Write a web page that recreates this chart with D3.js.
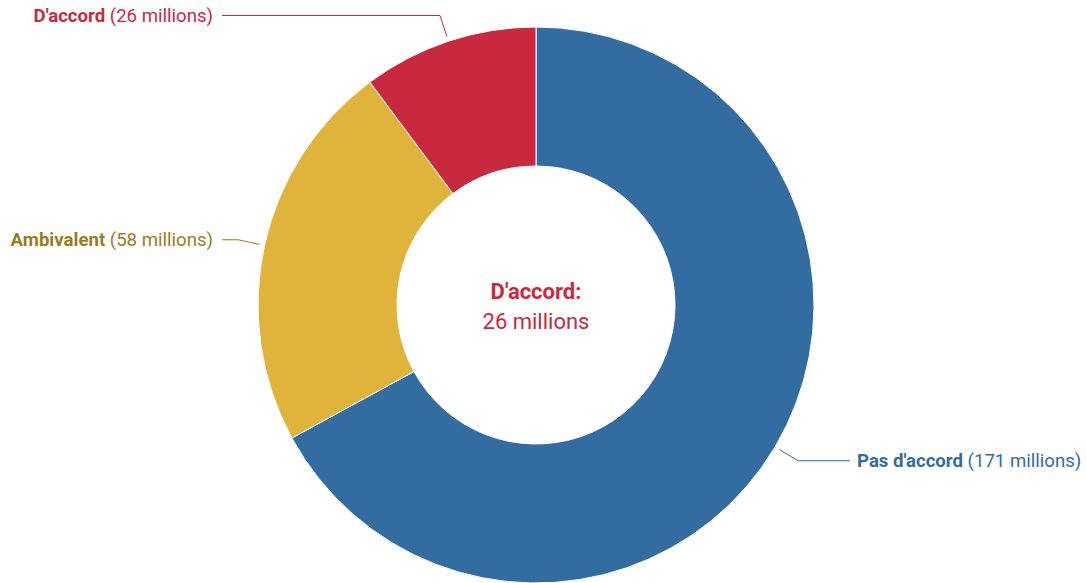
<!DOCTYPE html>
<html><head><meta charset="utf-8">
<script src="https://cdn.jsdelivr.net/npm/d3@7/dist/d3.min.js"></script>
<style>body{margin:0;background:#fff;}svg{display:block;font-family:Roboto,"Noto Sans",sans-serif;}</style>
</head><body><svg id="c" width="1086" height="583"></svg>
<script>
const categories = ["Pas d'accord", "Ambivalent", "D'accord"];
const values = [171, 58, 26];
const unitLabel = "millions";
const colors = ["#336ca1", "#e0b43b", "#c9293f"];
const labelColors = ["#336ca1", "#9c7a1f", "#c9293f"];
const centerIndex = 2;

const W = 1086, H = 583, cx = 536, cy = 305, R = 278, r0 = 139;
const svg = d3.select("#c");
const g = svg.append("g").attr("transform", `translate(${cx},${cy})`);
const data = categories.map((c, i) => ({name: c, value: values[i], i}));
const pie = d3.pie().value(d => d.value).sort(null);
const arcs = pie(data);
const arc = d3.arc().innerRadius(r0).outerRadius(R);
g.selectAll("path.slice").data(arcs).join("path")
  .attr("class", "slice")
  .attr("d", arc)
  .attr("fill", d => colors[d.data.i])
  .attr("stroke", "#fff").attr("stroke-width", 1);

const pt = (a, rad) => [rad * Math.sin(a), -rad * Math.cos(a)];
arcs.forEach(d => {
  const a = (d.startAngle + d.endAngle) / 2;
  const p0 = pt(a, R + 5), p1 = pt(a, R + 27);
  const right = Math.sin(a) > 0;
  const xEnd = right ? R + 36 : -(R + 36);
  g.append("path")
    .attr("d", d3.line()([p0, p1, [xEnd, p1[1]]]))
    .attr("fill", "none").attr("stroke", labelColors[d.data.i]).attr("stroke-width", 1);
  const t = g.append("text")
    .attr("x", xEnd + (right ? 7 : -9)).attr("y", p1[1]).attr("dy", "0.35em")
    .attr("text-anchor", right ? "start" : "end")
    .attr("font-size", 18.6).attr("fill", labelColors[d.data.i]);
  t.append("tspan").attr("font-weight", "bold").text(d.data.name);
  t.append("tspan").text(` (${d.data.value} ${unitLabel})`);
});

const cd = data[centerIndex];
g.append("text").attr("text-anchor", "middle").attr("y", -6)
  .attr("font-size", 22).attr("font-weight", "bold").attr("fill", colors[centerIndex])
  .text(cd.name + ":");
g.append("text").attr("text-anchor", "middle").attr("y", 24)
  .attr("font-size", 22).attr("fill", colors[centerIndex])
  .text(`${cd.value} ${unitLabel}`);
</script></body></html>
